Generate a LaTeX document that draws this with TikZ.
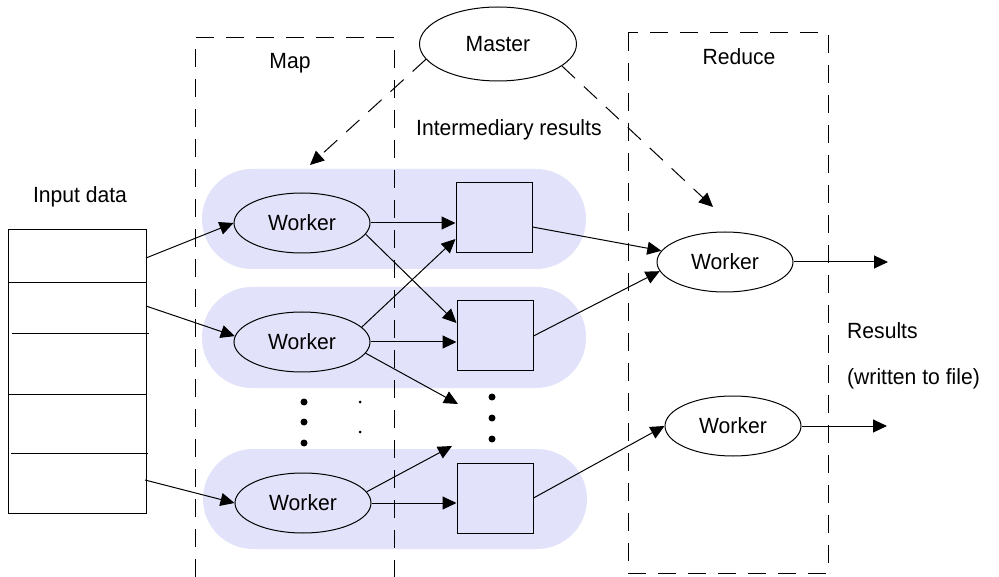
\documentclass[tikz,border=0pt]{standalone}
\usepackage{fontspec}
\setmainfont{Liberation Sans}[FakeStretch=0.96]
\usetikzlibrary{shapes.geometric,arrows.meta,calc}
\definecolor{bandcol}{RGB}{226,226,250}
\begin{document}
\begin{tikzpicture}[x=1pt,y=-1pt,
  font=\fontsize{22}{26}\selectfont,
  arr/.style={line width=1pt,-{Triangle[length=14pt,width=13pt]}},
  dsh/.style={line width=1pt,dash pattern=on 18pt off 12pt},
  worker/.style={ellipse,draw,line width=1pt,minimum width=136pt,minimum height=60pt,inner sep=0pt},
  sq/.style={rectangle,draw,line width=1pt,minimum width=76pt,minimum height=70pt,inner sep=0pt},
  bandbox/.style={fill=bandcol,rounded corners=50pt},
  bigdot/.style={circle,fill,inner sep=0pt,minimum size=7pt},
  smalldot/.style={circle,fill,inner sep=0pt,minimum size=3pt},
  lbl/.style={inner sep=0pt}
]
\useasboundingbox (0,0) rectangle (999,577);

% bands
\fill[bandbox] (202,169) rectangle (586,269);
\fill[bandbox] (202,287) rectangle (586,388);
\fill[bandbox] (203,449) rectangle (587,549);

% dashed group boxes
\draw[dsh] (195,577) -- (195,38) -- (394,38) -- (394,577);
\draw[dsh] (628,33) rectangle (828,573);

% labels
\node[lbl] (lmap) at (290,63) {Map};
\node[lbl] (lred) at (739,57) {Reduce};
\node[lbl] (lin) at (80,197) {Input data};
\node[lbl,anchor=west] (lint) at (416,130) {Intermediary results};
\node[lbl,anchor=west] (lres) at (847,331) {Results};
\node[lbl,anchor=west] (lfile) at (847,379) {(written to file)};

% input table
\node[rectangle,draw,line width=1pt,minimum width=138pt,minimum height=283pt,inner sep=0pt] (input) at (77,371.5) {};
\draw[line width=1pt] (8,283) -- (146,283);
\draw[line width=1pt] (12,334) -- (149,334);
\draw[line width=1pt] (8,394) -- (146,394);
\draw[line width=1pt] (11,453) -- (148,453);

% nodes
\node[worker,minimum width=157pt,minimum height=74pt] (master) at (498,44) {Master};
\node[worker] (w1) at (302,223) {Worker};
\node[worker] (w2) at (302,342) {Worker};
\node[worker] (w3) at (303,503) {Worker};
\node[sq] (s1) at (494,218) {};
\node[sq] (s2) at (495,336) {};
\node[sq] (s3) at (495,498) {};
\node[worker] (r1) at (725,262) {Worker};
\node[worker] (r2) at (733,426) {Worker};

% dots
\node[bigdot] (dl1) at (304,402) {};
\node[bigdot] (dl2) at (304,422) {};
\node[bigdot] (dl3) at (304,443) {};
\node[smalldot] (dm1) at (360,402) {};
\node[smalldot] (dm2) at (360,432) {};
\node[bigdot] (dr1) at (492,397) {};
\node[bigdot] (dr2) at (492,418) {};
\node[bigdot] (dr3) at (492,439) {};

% free ends
\coordinate (i1) at (146,258);
\coordinate (i2) at (146,306);
\coordinate (i3) at (145,480);
\coordinate (mL) at (310,165);
\coordinate (mR) at (713,207);
\coordinate (d1) at (458,404);
\coordinate (d2) at (452,446);
\coordinate (o1) at (888,262);
\coordinate (o2) at (887,426);

% master dashed arrows
\draw[arr,dsh] (master.192) -- (mL);
\draw[arr,dsh] (master.-19) -- (mR);

% input arrows
\draw[arr] (i1) -- (w1.west);
\draw[arr] (i2) -- (w2.175);
\draw[arr] (i3) -- (w3.west);

% map arrows
\draw[arr] (w1.east) -- (w1.east -| s1.west);
\draw[arr] (w1.-10) -- ([yshift=13pt]s2.west);
\draw[arr] (w2.14) -- ([yshift=-21pt]s1.west);
\draw[arr] (w2.east) -- (w2.east -| s2.west);
\draw[arr] (w2.-10) -- (d1);
\draw[arr] (w3.10) -- (d2);
\draw[arr] (w3.east) -- (w3.east -| s3.west);

% to reduce
\draw[arr] ([yshift=-9pt]s1.east) -- (r1.170);
\draw[arr] (s2.east) -- (r1.188);
\draw[arr] (s3.east) -- (r2.west);

% outputs
\draw[arr] (r1.east) -- (o1);
\draw[arr] (r2.east) -- (o2);
\end{tikzpicture}
\end{document}
